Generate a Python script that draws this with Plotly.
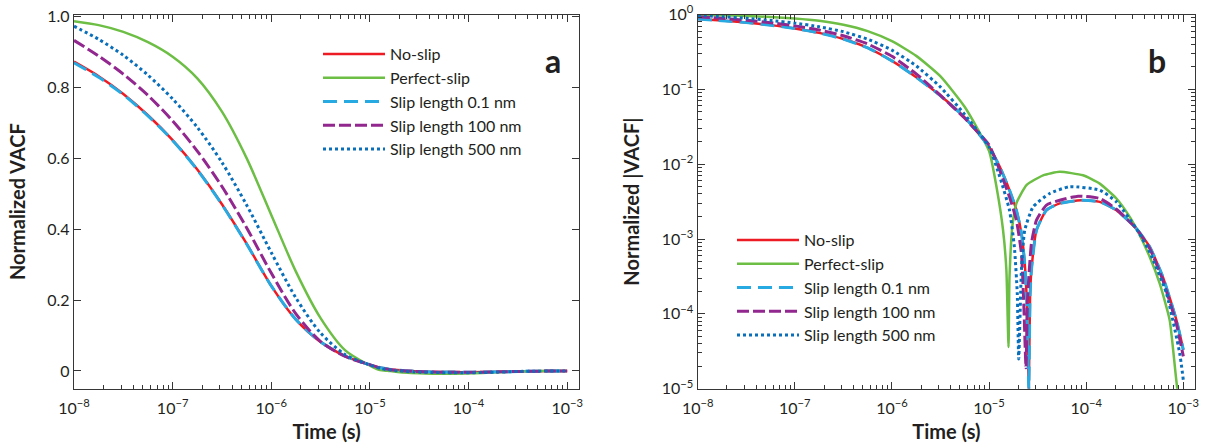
import plotly.graph_objects as go

# ---------------- data (time given as log10 of seconds) ----------------
noslip_exp = [-8, -7.75, -7.5, -7.25, -7, -6.75, -6.5, -6.25, -6, -5.75, -5.5, -5.25, -5,
              -4.89, -4.79, -4.719, -4.667, -4.633, -4.609, -4.591, -4.578, -4.564, -4.512,
              -4.409, -4.273, -4.05, -3.861, -3.689, -3.484, -3.347, -3.21, -3.072, -3.0]
noslip_val = [0.872, 0.831, 0.781, 0.721, 0.651, 0.568, 0.470, 0.359, 0.240, 0.145, 0.082, 0.042, 0.017,
              0.0092, 0.0045, 0.00243, 0.00119, 0.00047, 0.000124, 0.00001, -0.00018, -0.000385, -0.00131,
              -0.00243, -0.00299, -0.0033, -0.00314, -0.00243, -0.00138, -0.00079, -0.00031, -0.000083, -0.000033]

perfect_exp = [-8, -7.75, -7.5, -7.25, -7, -6.75, -6.5, -6.25, -6, -5.75, -5.5, -5.25, -5,
               -4.924, -4.856, -4.822, -4.80, -4.79, -4.76, -4.719, -4.615, -4.444, -4.273,
               -4.033, -3.861, -3.689, -3.552, -3.484, -3.347, -3.244, -3.141, -3.062, -3.0]
perfect_val = [0.986, 0.975, 0.956, 0.927, 0.886, 0.825, 0.731, 0.600, 0.440, 0.280, 0.149, 0.058, 0.015,
               0.005, 0.00131, 0.000385, 0.000036, -0.0003, -0.0015, -0.003, -0.00525, -0.0071, -0.0079,
               -0.0071, -0.0055, -0.00348, -0.00198, -0.00138, -0.00058, -0.000255, -0.000083, -0.00001, -0.000004]

slip01_exp = [-8, -7.75, -7.5, -7.25, -7, -6.75, -6.5, -6.25, -6, -5.75, -5.5, -5.25, -5,
              -4.89, -4.79, -4.719, -4.667, -4.633, -4.609, -4.591, -4.578, -4.564, -4.512,
              -4.409, -4.273, -4.05, -3.861, -3.689, -3.484, -3.347, -3.21, -3.072, -3.0]
slip01_val = [0.869, 0.828, 0.779, 0.719, 0.650, 0.567, 0.469, 0.358, 0.240, 0.145, 0.082, 0.042, 0.017,
              0.0092, 0.0045, 0.00243, 0.00119, 0.00047, 0.000124, 0.00001, -0.00018, -0.000385, -0.00131,
              -0.00243, -0.00299, -0.0033, -0.00314, -0.00243, -0.00138, -0.00079, -0.00031, -0.000083, -0.000033]

slip100_exp = [-8, -7.75, -7.5, -7.25, -7, -6.75, -6.5, -6.25, -6, -5.75, -5.5, -5.25, -5,
               -4.89, -4.79, -4.719, -4.667, -4.643, -4.62, -4.605, -4.564, -4.512, -4.409,
               -4.273, -4.084, -3.861, -3.689, -3.484, -3.347, -3.21, -3.072, -3.0]
slip100_val = [0.932, 0.888, 0.837, 0.777, 0.705, 0.620, 0.520, 0.404, 0.276, 0.161, 0.083, 0.041, 0.018,
               0.0083, 0.00366, 0.00179, 0.00064, 0.000138, 0.000019, -0.00015, -0.00087, -0.00179, -0.00284,
               -0.0033, -0.00374, -0.00348, -0.0025, -0.00138, -0.00075, -0.00028, -0.000074, -0.000027]

slip500_exp = [-8, -7.75, -7.5, -7.25, -7, -6.75, -6.5, -6.25, -6, -5.75, -5.5, -5.25, -5,
               -4.89, -4.79, -4.74, -4.71, -4.695, -4.667, -4.633, -4.547, -4.376, -4.17,
               -3.861, -3.689, -3.484, -3.347, -3.175, -3.038, -3.0]
slip500_val = [0.972, 0.935, 0.890, 0.834, 0.767, 0.687, 0.588, 0.468, 0.334, 0.206, 0.107, 0.046, 0.017,
               0.0068, 0.00243, 0.00079, 0.00019, 0.000025, -0.000385, -0.00131, -0.00269, -0.00406, -0.005,
               -0.0045, -0.00314, -0.00138, -0.00067, -0.00019, -0.00003, -0.000013]

series_names = ["No-slip", "Perfect-slip", "Slip length 0.1 nm", "Slip length 100 nm", "Slip length 500 nm"]

x_tick_exps = [-8, -7, -6, -5, -4, -3]
y2_tick_exps = [-5, -4, -3, -2, -1, 0]
ya_ticks = [0, 0.2, 0.4, 0.6, 0.8, 1.0]
ya_ticktext = ["0", "0.2", "0.4", "0.6", "0.8", "1.0"]

# ---------------- styling ----------------
FONT = "Lato"
AX = "#363636"
TXT = "#231f20"
styles = [
    dict(color="#ED1C24", width=2.5, dash="solid"),
    dict(color="#6DBE45", width=2.5, dash="solid"),
    dict(color="#27AAE1", width=3, dash="14px,7px"),
    dict(color="#92278F", width=3, dash="12px,4px"),
    dict(color="#0A6FBA", width=3, dash="3px,3px"),
]
datasets = [(noslip_exp, noslip_val), (perfect_exp, perfect_val), (slip01_exp, slip01_val),
            (slip100_exp, slip100_val), (slip500_exp, slip500_val)]

fig = go.Figure()
for name, (e, v), st in zip(series_names, datasets, styles):
    t = [10 ** x for x in e]
    fig.add_trace(go.Scatter(x=t, y=v, mode="lines", name=name, line=st,
                             line_shape="spline", line_smoothing=0.8,
                             xaxis="x", yaxis="y", legend="legend"))
for name, (e, v), st in zip(series_names, datasets, styles):
    t = [10 ** x for x in e]
    fig.add_trace(go.Scatter(x=t, y=[abs(a) for a in v], mode="lines", name=name, line=st,
                             line_shape="spline", line_smoothing=0.5,
                             xaxis="x2", yaxis="y2", legend="legend2"))

sup = lambda p: "10<sup>" + ("\u2212" if p < 0 else "") + str(abs(p)) + "</sup>"
x_tickvals = [10 ** p for p in x_tick_exps]
x_ticktext = [sup(p) for p in x_tick_exps]
x_minor = [m * 10 ** p for p in range(-8, -2) for m in range(2, 10)]
y2_tickvals = [10 ** p for p in y2_tick_exps]
y2_ticktext = [sup(p) for p in y2_tick_exps]
y2_minor = [m * 10 ** p for p in range(-5, 0) for m in range(2, 10)]

tickfont = dict(family=FONT, size=16, color=TXT)
titlefont = dict(family=FONT, size=20, color=TXT, weight="bold")
common = dict(showline=True, linecolor=AX, linewidth=1.3, mirror="allticks", ticks="inside",
              ticklen=7, tickwidth=1.2, tickcolor=AX, showgrid=False, zeroline=False,
              tickfont=tickfont, automargin=False)
minor = dict(ticks="inside", ticklen=4, tickwidth=1, tickcolor=AX, showgrid=False)

ydom = [1 - 388.7 / 446, 1 - 14.5 / 446]
legfont = dict(family=FONT, size=16, color=TXT)
fig.update_layout(
    width=1222, height=446, margin=dict(l=0, r=0, t=0, b=0, autoexpand=False),
    paper_bgcolor="white", plot_bgcolor="white",
    xaxis=dict(domain=[74 / 1222, 579 / 1222], type="log", range=[-8, -2.88], anchor="y",
               tickmode="array", tickvals=x_tickvals, ticktext=x_ticktext, ticklabelstandoff=5,
               minor=dict(tickmode="array", tickvals=x_minor, **minor),
               title=dict(text="Time (s)", font=titlefont, standoff=8), **common),
    yaxis=dict(domain=ydom, range=[-0.05, 1.005], anchor="x",
               tickmode="array", tickvals=ya_ticks, ticktext=ya_ticktext,
               title=dict(text="Normalized VACF", font=titlefont, standoff=16), **common),
    xaxis2=dict(domain=[697.7 / 1222, 1195 / 1222], type="log", range=[-8, -2.88], anchor="y2",
                tickmode="array", tickvals=x_tickvals, ticktext=x_ticktext, ticklabelstandoff=5,
                minor=dict(tickmode="array", tickvals=x_minor, **minor),
                title=dict(text="Time (s)", font=titlefont, standoff=8), **common),
    yaxis2=dict(domain=ydom, type="log", range=[-5, 0.0], anchor="x2",
                tickmode="array", tickvals=y2_tickvals, ticktext=y2_ticktext,
                minor=dict(tickmode="array", tickvals=y2_minor, **minor),
                title=dict(text="Normalized |VACF|", font=titlefont, standoff=16), **common),
    legend=dict(x=318 / 1222, y=1 - 37 / 446, xanchor="left", yanchor="top", itemwidth=62,
                bgcolor="rgba(0,0,0,0)", font=legfont, tracegroupgap=0),
    legend2=dict(x=732 / 1222, y=1 - 223 / 446, xanchor="left", yanchor="top", itemwidth=62,
                 bgcolor="rgba(0,0,0,0)", font=legfont, tracegroupgap=0),
    annotations=[
        dict(text="a", x=553 / 1222, y=1 - 39 / 446, xref="paper", yref="paper",
             showarrow=False, font=dict(family=FONT, size=32, color=TXT, weight="bold")),
        dict(text="b", x=1168 / 1222, y=1 - 39 / 446, xref="paper", yref="paper",
             showarrow=False, font=dict(family=FONT, size=32, color=TXT, weight="bold")),
    ],
)

fig.write_html("out.html")
